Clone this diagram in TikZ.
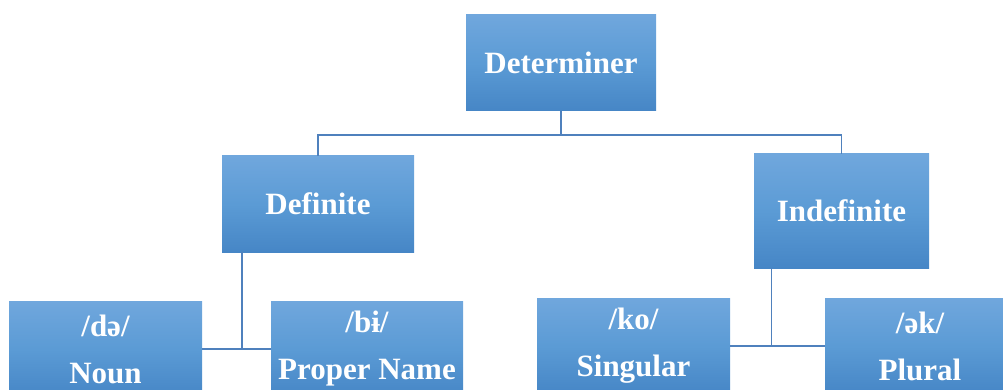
\documentclass[tikz,border=0pt]{standalone}
\usepackage{fontspec}
\setmainfont{Liberation Serif}
\begin{document}
\begin{tikzpicture}[x=1pt,y=-1pt,
  box/.style={rectangle, inner sep=0pt, text=white,
    top color=boxtop, bottom color=boxbot, middle color=boxmid,
    font=\bfseries\fontsize{31}{47}\selectfont, align=center},
  link/.style={draw=linkblue, line width=1.5pt}]
\definecolor{boxtop}{RGB}{112,167,221}
\definecolor{boxmid}{RGB}{91,155,213}
\definecolor{boxbot}{RGB}{70,134,198}
\definecolor{linkblue}{RGB}{79,129,189}
\useasboundingbox (0,0) rectangle (1003,390);
\clip (0,0) rectangle (1003,390);

% top level
\node[box, minimum width=190pt, minimum height=96pt] (det) at (561,63) {Determiner};

% second level
\node[box, minimum width=192pt, minimum height=96pt] (def) at (318,204) {Definite};
\node[box, minimum width=175pt, minimum height=114pt] (indef) at (841.5,211) {Indefinite};

% leaves
\node[box, minimum width=193pt, minimum height=96pt] (noun) at (105.5,349) {/də/\\Noun};
\node[box, minimum width=192pt, minimum height=96pt] (proper) at (367,349) {/bɨ/\\Proper Name};
\node[box, minimum width=193pt, minimum height=96pt] (sing) at (633.5,346) {/ko/\\Singular};
\node[box, minimum width=190pt, minimum height=96pt] (plur) at (920,346) {/ək/\\Plural};

% connectors from the root
\coordinate (hub) at (561,135);
\draw[link] (det.south) -- (hub);
\draw[link] (hub) -| (def.north);
\draw[link] (hub) -| (indef.north);

% connectors under the definite branch
\coordinate (dj) at (242,349);
\draw[link] (noun.east) -- (proper.west);
\draw[link] (dj) -- (dj |- def.south);

% connectors under the indefinite branch
\coordinate (ij) at (771.5,346);
\draw[link] (sing.east) -- (plur.west);
\draw[link] (ij) -- (ij |- indef.south);
\end{tikzpicture}
\end{document}
